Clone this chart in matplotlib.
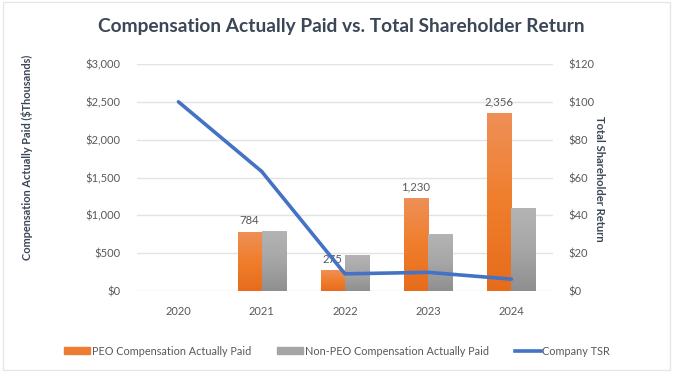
import numpy as np
import matplotlib.pyplot as plt
from matplotlib.colors import LinearSegmentedColormap
from matplotlib.lines import Line2D
from matplotlib.patches import Patch, Rectangle

# data
years = ["2020", "2021", "2022", "2023", "2024"]
peo_cap = [0, 784, 275, 1230, 2356]          # $ thousands
non_peo_cap = [0, 795, 475, 752, 1095]       # $ thousands
tsr = [100, 63.2, 9.1, 9.9, 6.3]             # value of $100 investment
peo_labels = ["", "784", "275", "1,230", "2,356"]

plt.rcParams["font.family"] = ["Lato", "DejaVu Sans"]

ORANGE = "#ED7D31"
GRAY = "#A5A5A5"
BLUE = "#4472C4"
DARK = "#3B4656"
TICK = "#595959"

# Excel-style vertical gradient fills (bottom -> top)
orange_grad = LinearSegmentedColormap.from_list("og", ["#E66C1C", "#F07E2C", "#EE9058"])
gray_grad = LinearSegmentedColormap.from_list("gg", ["#8F8F8F", "#A6A6A6", "#B4B4B4"])


def gradient_bars(ax, bars, cmap):
    grad = np.linspace(0, 1, 256).reshape(-1, 1)
    for b in bars:
        if b.get_height() <= 0:
            continue
        x0, y0 = b.get_x(), b.get_y()
        im = ax.imshow(grad, cmap=cmap, origin="lower", aspect="auto",
                       extent=(x0, x0 + b.get_width(), y0, y0 + b.get_height()),
                       zorder=2)
        im.set_clip_path(b)
        b.set_facecolor("none")


fig = plt.figure(figsize=(6.74, 3.83), dpi=100)
ax = fig.add_axes([0.203, 0.240, 0.6175, 0.593])
ax2 = ax.twinx()

x = np.arange(len(years))
w = 0.29
b1 = ax.bar(x - w / 2, peo_cap, w, color=ORANGE, lw=0, zorder=2)
b2 = ax.bar(x + w / 2, non_peo_cap, w, color=GRAY, lw=0, zorder=2)
gradient_bars(ax, b1, orange_grad)
gradient_bars(ax, b2, gray_grad)
ax.bar_label(b1, labels=peo_labels, padding=4, color=TICK, fontsize=8.2)

ax2.plot(x, tsr, color=BLUE, lw=2.6, solid_capstyle="round", zorder=3)

ax.set_xlim(-0.5, 4.5)
ax.set_ylim(0, 3000)
ax2.set_ylim(0, 120)
ax.set_yticks(np.arange(0, 3001, 500))
ax2.set_yticks(np.arange(0, 121, 20))
ax.set_yticklabels([f"${v:,}" for v in range(0, 3001, 500)])
ax2.set_yticklabels([f"${v}" for v in range(0, 121, 20)])
ax.set_xticks(x)
ax.set_xticklabels(years)

ax.grid(axis="y", color="#E3E3E3", lw=1, zorder=0)
ax.set_axisbelow(True)
for a in (ax, ax2):
    for s in a.spines.values():
        s.set_visible(False)
    a.tick_params(length=0, colors=TICK, labelsize=8)
ax.tick_params(axis="y", pad=12)
ax2.tick_params(axis="y", pad=11)
ax.tick_params(axis="x", pad=11)

fig.text(0.506, 0.932, "Compensation Actually Paid vs. Total Shareholder Return",
         ha="center", va="center", fontsize=13.8, fontweight="bold", color=DARK)
fig.text(0.040, 0.59, "Compensation Actually Paid ($Thousands)", rotation=90,
         ha="center", va="center", fontsize=7.9, fontweight="bold", color=DARK)
fig.text(0.889, 0.533, "Total Shareholder Return", rotation=-90,
         ha="center", va="center", fontsize=8.1, fontweight="bold", color=DARK)

handles = [Patch(color=ORANGE), Patch(color=GRAY), Line2D([], [], color=BLUE, lw=2.6)]
names = ["PEO Compensation Actually Paid", "Non-PEO Compensation Actually Paid", "Company TSR"]
fig.legend(handles, names, loc="center", bbox_to_anchor=(0.5, 0.083), ncol=3,
           frameon=False, fontsize=7.8, labelcolor=TICK, handlelength=2.4,
           handleheight=0.6, handletextpad=0.15, columnspacing=2.4)

fig.patches.append(Rectangle((0.004, 0.035), 0.99, 0.96, transform=fig.transFigure,
                             fill=False, edgecolor="#E6E6E6", lw=1))

fig.savefig("out.png", dpi=100, facecolor="white")
